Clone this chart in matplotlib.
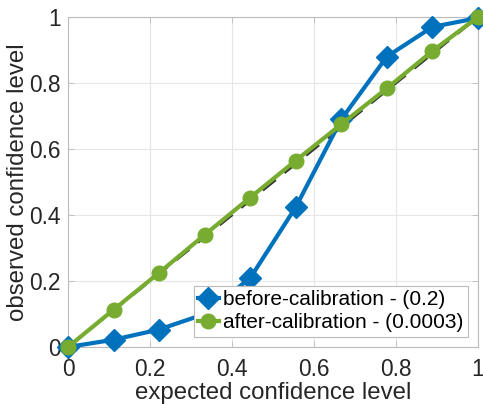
import numpy as np
import matplotlib.pyplot as plt

plt.rcParams['font.family'] = ['Liberation Sans', 'DejaVu Sans']

expected = np.linspace(0, 1, 10)
before = [0.0, 0.022, 0.053, 0.10, 0.209, 0.424, 0.69, 0.88, 0.97, 0.997]
after = [0.0, 0.113, 0.225, 0.340, 0.453, 0.565, 0.675, 0.784, 0.897, 1.0]
labels = ['before-calibration - (0.2)', 'after-calibration - (0.0003)']

txt = '#262626'
fig = plt.figure(figsize=(4.83, 4.04), dpi=100)
ax = fig.add_axes([68/483, 1 - 347/404, 410/483, 330/404])

ax.plot([0, 1], [0, 1], '--', color='#333333', lw=2, dashes=(6, 4), zorder=2)
ax.plot(expected, before, '-D', color='#0072BD', lw=3, ms=11, label=labels[0], zorder=3, clip_on=False)
ax.plot(expected, after, '-o', color='#77AC30', lw=3, ms=10.5, label=labels[1], zorder=4, clip_on=False)

ax.set_xlim(0, 1)
ax.set_ylim(0, 1)
ax.set_xticks([0, 0.2, 0.4, 0.6, 0.8, 1])
ax.set_yticks([0, 0.2, 0.4, 0.6, 0.8, 1])
ax.set_xticklabels(['0', '0.2', '0.4', '0.6', '0.8', '1'])
ax.set_yticklabels(['0', '0.2', '0.4', '0.6', '0.8', '1'])
ax.grid(True, color='#e6e6e6', lw=0.8)
ax.set_axisbelow(True)
ax.tick_params(direction='in', length=4, width=0.6, colors='#bbbbbb', labelcolor=txt,
               labelsize=16.4, top=True, right=True)
ax.tick_params(axis='x', pad=8)
ax.tick_params(axis='y', pad=5)
for s in ax.spines.values():
    s.set_color('#bbbbbb')
    s.set_linewidth(0.8)

ax.set_xlabel('expected confidence level', fontsize=17.3, color=txt, labelpad=1)
ax.set_ylabel('observed confidence level', fontsize=17.3, color=txt, labelpad=0)

leg = ax.legend(loc='lower right', fontsize=15, handlelength=1.0, handletextpad=0.2,
                borderpad=0.2, labelspacing=0.2, fancybox=False, framealpha=1,
                edgecolor='#bbbbbb', borderaxespad=0.5)
leg.get_frame().set_linewidth(0.8)

fig.savefig('out.png', dpi=100)
